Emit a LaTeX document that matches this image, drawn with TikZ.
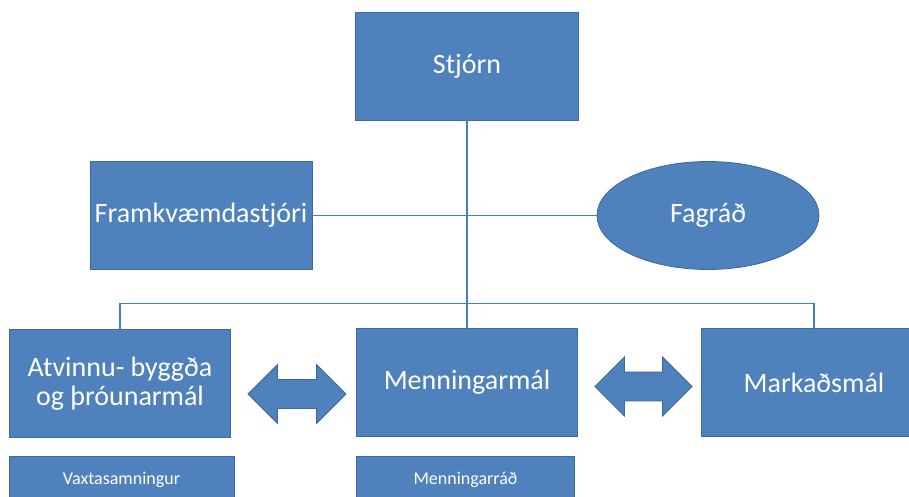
\documentclass[tikz,border=0pt]{standalone}
\usepackage{fontspec}
\setmainfont{Carlito}
\usepackage{tikz}
\usetikzlibrary{shapes.geometric,shapes.arrows}

\definecolor{boxblue}{HTML}{4F81BD}
\definecolor{boxedge}{HTML}{3C6A9E}
\definecolor{linkblue}{HTML}{4A7EBB}

\begin{document}
\begin{tikzpicture}[x=1pt, y=-1pt]
\tikzset{inner sep=0pt, outer sep=0pt}
\tikzset{unit/.style={rectangle, fill=boxblue, draw=boxedge, line width=0.8pt, text=white,
    minimum width=221, minimum height=108, align=center,
    font=\fontsize{28}{29}\selectfont}}
\tikzset{subunit/.style={unit, minimum height=48, font=\fontsize{18}{20}\selectfont}}
\tikzset{link/.style={draw=linkblue, line width=1.8pt}}
\tikzset{twoway/.style={double arrow, fill=boxblue, draw=boxedge, line width=0.8pt,
    minimum height=98, inner ysep=14pt, double arrow head extend=15pt, double arrow tip angle=90}}

\clip (0,0) rectangle (909,497);

\node [unit, minimum width=223] (stjorn) at (467, 66){Stjórn};

\node [unit, minimum width=222] (framkv) at (201, 215.5){Framkvæmdastjóri};
\node [unit, ellipse, minimum width=222] (fagrad) at (708, 215.5){Fagráð};

\node [unit] (atvinnu) at (120, 383.5){Atvinnu- byggða\\og þróunarmál};
\node [unit] (menning) at (467, 382.5){Menningarmál};
\node [unit, minimum width=226] (markad) at (814, 382.5){Markaðsmál};

\node [subunit, minimum width=225] (vaxta) at (121.5, 480){Vaxtasamningur};
\node [subunit, minimum width=218] (mradh) at (465.5, 480){Menningarráð};

\node [twoway] (arrowA) at (297, 394){};
\node [twoway, minimum height=97] (arrowB) at (643.5, 386.5){};

\coordinate (bus) at (467, 303.5);

\draw [link] (stjorn) -- (menning);
\draw [link] (framkv) -- (fagrad);
\draw [link] (atvinnu) |- (bus) -| (markad);

\end{tikzpicture}
\end{document}
